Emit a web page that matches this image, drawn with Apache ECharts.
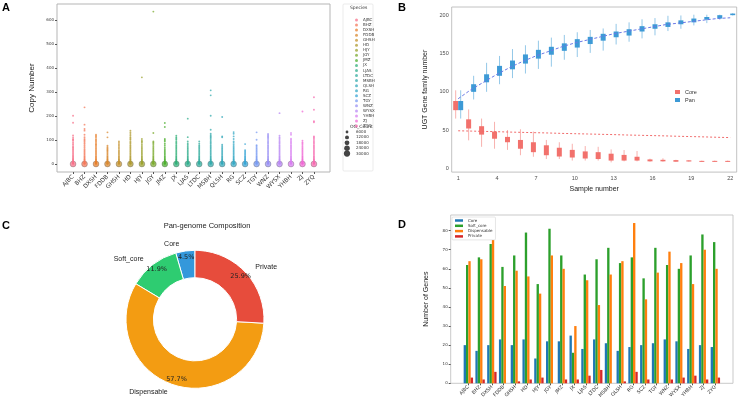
<!DOCTYPE html>
<html>
<head>
<meta charset="utf-8">
<script src="https://cdn.jsdelivr.net/npm/echarts@6/dist/echarts.min.js"></script>
<style>
  body { margin: 0; background: #fff; width: 738px; height: 403px; position: relative; overflow: hidden; }
  .panel { position: absolute; }
</style>
</head>
<body>
<div id="panelA" class="panel" style="left:0;top:0;width:375px;height:198px"></div>
<div id="panelB" class="panel" style="left:375px;top:0;width:363px;height:198px"></div>
<div id="panelC" class="panel" style="left:0;top:198px;width:375px;height:205px"></div>
<div id="panelD" class="panel" style="left:375px;top:198px;width:363px;height:205px"></div>
<script>
// ---------- data ----------
var species = ['AJBC', 'BHZ', 'DXSH', 'FDDB', 'GHSH', 'HD', 'HJY', 'JGY', 'JMZ', 'JX', 'LJAS',
  'LTDC', 'MSBH', 'QLSH', 'RG', 'SCZ', 'TGY', 'WNZ', 'WYSX', 'YHBH', 'ZJ', 'ZYQ'];

var speciesColors = ['#f77189', '#f4795b', '#e7802e', '#d98a31', '#c59432', '#b09b31', '#9ca331',
  '#7dab31', '#4fb031', '#33b07a', '#34af8f', '#35ad9f', '#36abad', '#37aabb', '#38a9c5', '#3aa5d6',
  '#7b9cf2', '#9a91f4', '#b98af4', '#d87ff0', '#f06bd6', '#f66bb0'];

// panel A: copy numbers observed per species (besides 0)
var copiesAJBC = [1, 2, 3, 4, 5, 6, 8, 10, 12, 14, 17, 20, 23, 27, 31, 35, 40, 45, 50, 55, 60, 64, 69, 72, 79, 84, 90, 97, 101, 104, 111, 119, 172, 201];
var copiesBHZ = [1, 2, 3, 4, 5, 6, 8, 10, 12, 15, 18, 21, 25, 29, 33, 38, 43, 48, 53, 58, 63, 70, 76, 83, 88, 94, 99, 104, 112, 122, 139, 146, 164, 236];
var copiesDXSH = [1, 2, 3, 4, 5, 6, 8, 10, 12, 15, 18, 21, 25, 29, 33, 38, 43, 48, 53, 58, 63, 68, 74, 79, 83, 88, 94, 99, 104, 112, 117, 122];
var copiesFDDB = [1, 2, 3, 4, 5, 6, 8, 10, 12, 15, 18, 21, 25, 29, 33, 38, 43, 48, 53, 57, 61, 65, 70, 76, 111, 132];
var copiesGHSH = [1, 2, 3, 4, 5, 6, 8, 10, 12, 15, 18, 21, 25, 29, 33, 38, 43, 48, 53, 58, 64, 70, 76, 82, 88, 94];
var copiesHD = [1, 2, 3, 4, 5, 6, 8, 10, 12, 15, 18, 21, 25, 29, 33, 38, 43, 48, 53, 58, 63, 68, 73, 78, 84, 89, 94, 101, 106, 111, 118, 125, 132, 139];
var copiesHJY = [1, 2, 3, 4, 5, 6, 8, 10, 12, 15, 18, 21, 25, 29, 33, 38, 43, 48, 53, 58, 63, 68, 74, 80, 88, 93, 97, 104, 361];
var copiesJGY = [1, 2, 3, 4, 5, 6, 8, 10, 12, 15, 18, 21, 25, 29, 33, 38, 43, 48, 53, 58, 63, 68, 74, 80, 86, 90, 94, 129, 635];
var copiesJMZ = [1, 2, 3, 4, 5, 6, 8, 10, 12, 15, 18, 21, 25, 29, 33, 38, 43, 48, 53, 58, 63, 70, 78, 85, 94, 99, 104, 154, 171];
var copiesJX = [1, 2, 3, 4, 5, 6, 8, 10, 12, 15, 18, 21, 25, 29, 33, 38, 43, 48, 53, 58, 63, 68, 73, 78, 84, 89, 94, 101, 106, 111, 118];
var copiesLJAS = [1, 2, 3, 4, 5, 6, 8, 10, 12, 15, 18, 21, 25, 29, 33, 38, 43, 48, 53, 58, 63, 68, 74, 80, 86, 94, 112, 189];
var copiesLTDC = [1, 2, 3, 4, 5, 6, 8, 10, 12, 15, 18, 21, 25, 29, 33, 38, 43, 48, 53, 58, 63, 68, 73, 78, 85, 94];
var copiesMSBH = [1, 2, 3, 4, 5, 6, 8, 10, 12, 15, 18, 21, 25, 29, 33, 38, 43, 48, 53, 58, 63, 68, 73, 78, 84, 89, 94, 100, 106, 111, 115, 120, 126, 143, 201, 286, 307];
var copiesQLSH = [1, 2, 3, 4, 5, 6, 8, 10, 12, 15, 18, 21, 25, 29, 33, 38, 43, 48, 53, 58, 63, 68, 74, 80, 111, 115, 196];
var copiesRG = [1, 2, 3, 4, 5, 6, 8, 10, 12, 15, 18, 21, 25, 29, 33, 38, 43, 48, 53, 58, 63, 68, 74, 80, 88, 94, 104, 115, 126, 133];
var copiesSCZ = [1, 2, 3, 4, 5, 6, 8, 10, 12, 15, 18, 21, 25, 29, 33, 38, 43, 48, 53, 58, 83];
var copiesTGY = [1, 2, 3, 4, 5, 6, 8, 10, 12, 15, 18, 21, 25, 29, 33, 38, 43, 48, 53, 58, 63, 68, 74, 78, 101, 132];
var copiesWNZ = [1, 2, 3, 4, 5, 6, 8, 10, 12, 15, 18, 21, 25, 29, 33, 38, 43, 48, 53, 58, 63, 68, 73, 78, 84, 89, 94, 100, 106, 111, 115, 120, 125];
var copiesWYSX = [1, 2, 3, 4, 5, 6, 8, 10, 12, 15, 18, 21, 25, 29, 33, 38, 43, 48, 53, 58, 63, 68, 73, 78, 84, 89, 94, 100, 106, 111, 118, 212];
var copiesYHBH = [1, 2, 3, 4, 5, 6, 8, 10, 12, 15, 18, 21, 25, 29, 33, 38, 43, 48, 53, 58, 63, 68, 73, 78, 84, 89, 94, 100, 105, 122, 129];
var copiesZJ = [1, 2, 3, 4, 5, 6, 8, 10, 12, 15, 18, 21, 25, 29, 33, 38, 43, 48, 53, 58, 63, 68, 74, 80, 86, 90, 97, 219];
var copiesZYQ = [1, 2, 3, 4, 5, 6, 8, 10, 12, 15, 18, 21, 25, 29, 33, 38, 43, 48, 53, 58, 63, 68, 73, 78, 84, 89, 94, 100, 106, 111, 115, 174, 178, 226, 278];
var copiesBySpecies = [copiesAJBC, copiesBHZ, copiesDXSH, copiesFDDB, copiesGHSH, copiesHD, copiesHJY,
  copiesJGY, copiesJMZ, copiesJX, copiesLJAS, copiesLTDC, copiesMSBH, copiesQLSH, copiesRG, copiesSCZ,
  copiesTGY, copiesWNZ, copiesWYSX, copiesYHBH, copiesZJ, copiesZYQ];
// number of orthogroups at copy number 0,1,2,... (rest are single groups)
var ogCountByCopy = [26000, 3500, 1200, 500, 250, 120, 60];
var ogLegendCounts = [6000, 12000, 18000, 24000, 30000];
var copyTicks = [0, 100, 200, 300, 400, 500, 600];

// panel B: [min, Q1, median, Q3, max] per sample number
var sampleNumbers = ['1', '2', '3', '4', '5', '6', '7', '8', '9', '10', '11', '12', '13', '14', '15', '16', '17', '18', '19', '20', '21', '22'];
var coreBox = [
  [65, 76, 82, 88, 102], [36.5, 52, 58, 64, 77], [28, 44, 49, 55, 65], [25.5, 38.6, 43, 48, 60.7],
  [24, 34, 37, 41, 50], [17, 25.5, 31, 37, 51], [15, 21, 27, 34, 48], [12, 17, 24, 30, 37],
  [12, 15.3, 21, 26.8, 34], [10, 14, 19, 24, 32], [10, 12.7, 17, 22, 29], [10, 12, 16, 21, 28],
  [7.6, 10, 14, 19, 24.6], [9, 10, 13, 17.4, 23.8], [9, 10, 12, 15, 22.5], [8.5, 9, 10, 11.5, 12.5],
  [8.5, 9, 10, 11, 13], [8.5, 8.5, 9.5, 10.6, 11], [8.5, 8.8, 9.5, 10.3, 10.6], [8.5, 8.7, 9, 9.6, 10],
  [8.5, 8.7, 9, 9.6, 10], [8.5, 8.7, 9, 9.6, 10]
];
var panBox = [
  [65, 76, 82, 88, 102], [90, 100, 105, 110, 121], [100, 112.5, 117, 123, 138], [110, 121, 128, 134, 147],
  [118, 129.5, 135, 141, 156], [124, 137, 143, 149, 161], [130, 143.5, 150, 155, 167], [133, 148.6, 155, 159, 171],
  [142, 153.7, 159, 163.5, 174.5], [145.6, 158, 165, 169, 178], [151, 162.6, 168, 172, 181], [154, 167, 172, 176, 183],
  [162, 171.5, 176, 179, 189], [165.6, 173.7, 179, 182, 191], [170, 179, 183, 186, 195], [174, 182.6, 186, 188.5, 196.6],
  [179.6, 185, 189, 191, 199.6], [182.6, 188.5, 191, 193.6, 200], [187, 191, 193, 196, 201], [190, 194.5, 196, 198, 201],
  [194.5, 196, 198, 200.4, 201], [200, 200.4, 201, 202.5, 203]
];
var panFit = [91, 103, 113, 123, 132, 140, 147, 153, 159, 164, 168, 172, 176, 179, 182, 185, 188, 190, 192, 194, 196, 197];
var coreFit = [49, 48.6, 48.2, 47.8, 47.3, 46.9, 46.5, 46.1, 45.6, 45.2, 44.8, 44.4, 44, 43.5, 43.1, 42.7, 42.3, 41.8, 41.4, 41, 40.5, 40.1];
var familyTicks = [0, 50, 100, 150, 200];

// panel C
var compNames = ['Core', 'Soft_core', 'Dispensable', 'Private'];
var compPercent = [4.5, 11.9, 57.7, 25.9];
var compColors = ['#3498db', '#2ecc71', '#f39c12', '#e74c3c'];

// panel D
var coreGenes = [20, 17, 20, 23, 20, 23, 13, 22, 22, 25, 18, 23, 21, 17, 19, 20, 21, 23, 22, 18, 20, 19];
var softCoreGenes = [62, 66, 73, 61, 67, 79, 52, 81, 67, 16, 57, 65, 71, 63, 66, 55, 71, 62, 60, 67, 78, 74];
var dispensableGenes = [64, 65, 81, 51, 59, 56, 47, 67, 60, 30, 54, 41, 57, 64, 84, 44, 58, 69, 63, 52, 70, 60];
var privateGenes = [3, 2, 6, 0, 1, 2, 3, 0, 2, 2, 4, 7, 0, 1, 6, 2, 0, 2, 3, 4, 2, 3];
var geneTicks = [0, 10, 20, 30, 40, 50, 60, 70, 80];
var geneColors = ['#1f77b4', '#2ca02c', '#ff7f0e', '#d62728'];

var speciesIdx = species.map(function (s, i) { return i; });
var sansFont = 'Liberation Sans';
var tickFont = 'DejaVu Sans';

function ogSize(count) {
  return Math.max(1.9, Math.sqrt(count) * 0.036);
}

function panelLetter(text, x, y) {
  return { type: 'text', left: x, top: y, style: { text: text, font: 'bold 11px "Liberation Sans"', fill: '#000' } };
}

// ---------- A ----------
var chartA = echarts.init(document.getElementById('panelA'));
var seriesA = species.map(function (name, i) {
  var pts = [{ value: [i, 0, ogCountByCopy[0]], itemStyle: { borderColor: 'rgba(80,80,80,0.7)', borderWidth: 0.6 } }];
  copiesBySpecies[i].forEach(function (c) {
    var cnt = c < ogCountByCopy.length ? ogCountByCopy[c] : 1;
    pts.push({ value: [i, c, cnt] });
  });
  return {
    name: name,
    type: 'scatter',
    data: pts,
    symbolSize: function (v) { return ogSize(v[2]); },
    itemStyle: { color: speciesColors[i], opacity: 0.75 },
    emphasis: { disabled: true }
  };
});
var ogLegendGraphics = [];
ogLegendCounts.forEach(function (cnt, k) {
  ogLegendGraphics.push({ type: 'circle', shape: { cx: 347, cy: 132 + k * 5.4, r: ogSize(cnt) / 2 }, style: { fill: '#444' } });
  ogLegendGraphics.push({ type: 'text', x: 356, y: 132 + k * 5.4, style: { text: String(cnt), font: '4px "DejaVu Sans"', fill: '#333', verticalAlign: 'middle' } });
});
chartA.setOption({
  animation: false,
  grid: { left: 57, top: 4, width: 273, height: 168, show: true, borderColor: '#b5b5b5', borderWidth: 1 },
  xAxis: {
    type: 'value', min: -1.4, max: 22.4,
    axisLine: { show: false, onZero: false }, splitLine: { show: false },
    axisTick: { customValues: speciesIdx, length: 2, lineStyle: { color: '#555' } },
    axisLabel: {
      customValues: speciesIdx, rotate: 45, fontSize: 5.8, color: '#333', margin: 4, fontFamily: tickFont,
      formatter: function (v) { return species[v]; }
    }
  },
  yAxis: {
    type: 'value', min: -33.3, max: 666.7,
    axisLine: { show: false, onZero: false }, splitLine: { show: false },
    axisTick: { customValues: copyTicks, length: 2, lineStyle: { color: '#555' } },
    axisLabel: { customValues: copyTicks, fontSize: 4, color: '#333', margin: 3, fontFamily: tickFont },
    name: 'Copy Number', nameLocation: 'middle', nameGap: 19,
    nameTextStyle: { fontSize: 8, color: '#222', fontFamily: sansFont }
  },
  legend: {
    orient: 'vertical', left: 350, top: 13, icon: 'circle',
    itemWidth: 3, itemHeight: 3, itemGap: 1.05,
    textStyle: { fontSize: 4, lineHeight: 4, color: '#333', fontFamily: tickFont },
    data: species, selectedMode: false
  },
  graphic: [
    panelLetter('A', 2, 2),
    { type: 'rect', shape: { x: 343, y: 4, width: 30, height: 167, r: 1 }, style: { fill: 'none', stroke: '#ddd', lineWidth: 0.6 } },
    { type: 'text', x: 350, y: 5, style: { text: 'Species', font: '4.5px "DejaVu Sans"', fill: '#333' } },
    { type: 'text', x: 350, y: 124.5, style: { text: 'OG_Count', font: '4.5px "DejaVu Sans"', fill: '#333' } }
  ].concat(ogLegendGraphics),
  series: seriesA
});

// ---------- B ----------
var chartB = echarts.init(document.getElementById('panelB'));
function boxRenderer(side, color) {
  return function (params, api) {
    var x = api.value(0);
    var band = api.size([1, 0])[0];
    var w = band * 0.386;
    var cx = api.coord([x, api.value(3)])[0] + side * w / 2;
    var yLo = api.coord([x, api.value(1)])[1];
    var yQ1 = api.coord([x, api.value(2)])[1];
    var yQ3 = api.coord([x, api.value(4)])[1];
    var yHi = api.coord([x, api.value(5)])[1];
    return {
      type: 'group',
      children: [
        { type: 'line', shape: { x1: cx, y1: yLo, x2: cx, y2: yHi }, style: { stroke: color, opacity: 0.55, lineWidth: 1 } },
        { type: 'rect', shape: { x: cx - w / 2, y: yQ3, width: w, height: Math.max(yQ1 - yQ3, 1) }, style: { fill: color } }
      ]
    };
  };
}
function boxData(rows) {
  return rows.map(function (r, i) { return [i].concat(r); });
}
chartB.setOption({
  animation: false,
  grid: { left: 76.7, top: 7, width: 285, height: 169.7, show: true, borderColor: '#b3b3b3', borderWidth: 0.8 },
  xAxis: {
    type: 'category', data: sampleNumbers,
    axisLine: { show: false },
    axisTick: { interval: 2, alignWithLabel: true, length: 2, lineStyle: { color: '#444' } },
    axisLabel: { interval: 2, fontSize: 5.5, color: '#4d4d4d', margin: 3, fontFamily: sansFont },
    name: 'Sample number', nameLocation: 'middle', nameGap: 8,
    nameTextStyle: { fontSize: 7, color: '#222', fontFamily: sansFont }
  },
  yAxis: {
    type: 'value', min: -5.1, max: 211.1,
    axisLine: { show: false, onZero: false }, splitLine: { show: false },
    axisTick: { customValues: familyTicks, length: 2, lineStyle: { color: '#444' } },
    axisLabel: { customValues: familyTicks, fontSize: 5.5, color: '#4d4d4d', margin: 3, fontFamily: sansFont },
    name: 'UGT Gene family number', nameLocation: 'middle', nameGap: 22,
    nameTextStyle: { fontSize: 7, color: '#222', fontFamily: sansFont }
  },
  legend: {
    orient: 'vertical', left: 295, top: 84, icon: 'rect',
    itemWidth: 5, itemHeight: 4, itemGap: 2,
    textStyle: { fontSize: 5.5, lineHeight: 6, color: '#333', fontFamily: sansFont },
    data: ['Core', 'Pan'], selectedMode: false
  },
  graphic: [panelLetter('B', 23, 2)],
  series: [
    { name: 'Core', type: 'custom', data: boxData(coreBox), encode: { x: 0, y: [1, 2, 3, 4, 5] },
      renderItem: boxRenderer(-1, '#f2716c'), itemStyle: { color: '#f2716c' }, z: 2 },
    { name: 'Pan', type: 'custom', data: boxData(panBox), encode: { x: 0, y: [1, 2, 3, 4, 5] },
      renderItem: boxRenderer(1, '#3d9ad6'), itemStyle: { color: '#3d9ad6' }, z: 2 },
    { name: 'panFit', type: 'line', data: panFit, symbol: 'none', z: 3,
      lineStyle: { color: '#6b78e5', width: 1, type: [3, 2] } },
    { name: 'coreFit', type: 'line', data: coreFit, symbol: 'none', z: 3,
      lineStyle: { color: '#f06a6a', width: 1, type: [2, 2] } }
  ]
});

// ---------- C ----------
var chartC = echarts.init(document.getElementById('panelC'));
var pieData = compNames.map(function (n, i) {
  return { name: n, value: compPercent[i], itemStyle: { color: compColors[i] } };
});
chartC.setOption({
  animation: false,
  title: {
    text: 'Pan-genome Composition', left: 202, top: 19, textAlign: 'center',
    textStyle: { fontSize: 7.5, fontWeight: 'normal', color: '#222', fontFamily: sansFont }
  },
  graphic: [panelLetter('C', 2, 22)],
  series: [
    {
      type: 'pie', center: [195, 121.3], radius: [41.6, 69], startAngle: 90, clockwise: false,
      avoidLabelOverlap: false, silent: true, data: pieData,
      itemStyle: { borderColor: '#fff', borderWidth: 1 },
      label: { position: 'outside', formatter: '{b}', fontSize: 7, color: '#222', fontFamily: sansFont },
      labelLine: { show: false, length: 7, length2: 0 }
    },
    {
      type: 'pie', center: [195, 121.3], radius: [41.6, 78], startAngle: 90, clockwise: false,
      avoidLabelOverlap: false, silent: true,
      data: compNames.map(function (n, i) { return { name: n, value: compPercent[i] }; }),
      itemStyle: { color: 'transparent', borderWidth: 0 },
      label: {
        position: 'inside', fontSize: 6.5, color: '#222', fontFamily: tickFont,
        formatter: function (p) { return p.value.toFixed(1) + '%'; }
      },
      labelLine: { show: false }
    }
  ]
});

// ---------- D ----------
var chartD = echarts.init(document.getElementById('panelD'));
var geneSeriesNames = ['Core', 'Soft_core', 'Dispensable', 'Private'];
var geneValues = [coreGenes, softCoreGenes, dispensableGenes, privateGenes];
chartD.setOption({
  animation: false,
  grid: { left: 75.7, top: 17, width: 282.3, height: 168.3, show: true, borderColor: '#bbb', borderWidth: 0.8 },
  xAxis: {
    type: 'value', min: -1.5, max: 22.5,
    axisLine: { show: false, onZero: false }, splitLine: { show: false },
    axisTick: { customValues: speciesIdx, length: 2, lineStyle: { color: '#555' } },
    axisLabel: {
      customValues: speciesIdx, rotate: 45, fontSize: 4.8, color: '#333', margin: 3, fontFamily: tickFont,
      formatter: function (v) { return species[v]; }
    }
  },
  yAxis: {
    type: 'value', min: 0, max: 88.2,
    axisLine: { show: false, onZero: false }, splitLine: { show: false },
    axisTick: { customValues: geneTicks, length: 2, lineStyle: { color: '#555' } },
    axisLabel: { customValues: geneTicks, fontSize: 4, color: '#333', margin: 3, fontFamily: tickFont },
    name: 'Number of Genes', nameLocation: 'middle', nameGap: 21,
    nameTextStyle: { fontSize: 7, color: '#222', fontFamily: sansFont }
  },
  legend: {
    orient: 'vertical', left: 77, top: 19, icon: 'rect',
    itemWidth: 8, itemHeight: 2.5, itemGap: 1.3,
    padding: [1.5, 3, 1.5, 3], borderColor: '#ccc', borderWidth: 0.5, borderRadius: 1, backgroundColor: '#fff',
    textStyle: { fontSize: 4, lineHeight: 4, color: '#333', fontFamily: tickFont },
    data: geneSeriesNames, selectedMode: false
  },
  graphic: [panelLetter('D', 23, 21)],
  series: geneSeriesNames.map(function (n, k) {
    return {
      name: n, type: 'bar', barWidth: 2.35, barGap: '0%',
      data: geneValues[k].map(function (v, i) { return [i, v]; }),
      itemStyle: { color: geneColors[k] },
      emphasis: { disabled: true }
    };
  })
});
</script>
</body>
</html>
